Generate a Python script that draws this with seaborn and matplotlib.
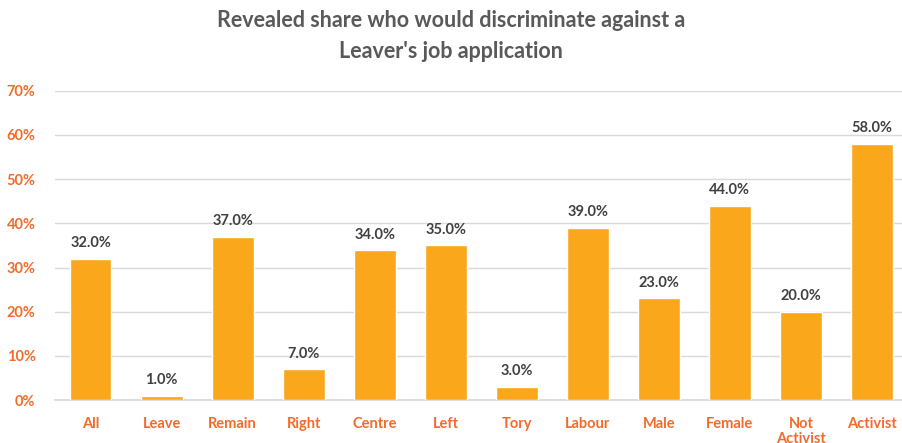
import matplotlib
matplotlib.use("Agg")
import matplotlib.pyplot as plt
import seaborn as sns
import pandas as pd

categories = ["All", "Leave", "Remain", "Right", "Centre", "Left", "Tory", "Labour",
              "Male", "Female", "Not\nActivist", "Activist"]
values = [32.0, 1.0, 37.0, 7.0, 34.0, 35.0, 3.0, 39.0, 23.0, 44.0, 20.0, 58.0]
yticks = [0, 10, 20, 30, 40, 50, 60, 70]
title = "Revealed share who would discriminate against a\nLeaver's job application"

sns.set_theme(style="white")
plt.rcParams['font.family'] = ['Lato', 'DejaVu Sans']

df = pd.DataFrame({"cat": categories, "val": values})

fig = plt.figure(figsize=(9.02, 4.43), dpi=100)
ax = fig.add_axes([0.061, 0.097, 0.945, 0.698])

sns.barplot(data=df, x="cat", y="val", color="#FAA71C", saturation=1, width=0.59, ax=ax, zorder=3)

ax.set_ylim(0, 70)
ax.set_xlim(-0.5, len(categories) - 0.5)
ax.set_yticks(yticks)
ax.set_yticklabels([f"{t}%" for t in yticks])
ax.grid(axis="y", color="#D9D9D9", linewidth=1, zorder=0)
for s in ["top", "right", "left"]:
    ax.spines[s].set_visible(False)
ax.spines["bottom"].set_color("#D9D9D9")
ax.set_xlabel("")
ax.set_ylabel("")
ax.tick_params(axis="both", length=0)
ax.tick_params(axis="y", pad=14)
ax.tick_params(axis="x", pad=12)
for lab in ax.get_xticklabels() + ax.get_yticklabels():
    lab.set_color("#F26B2A")
    lab.set_fontweight("bold")
    lab.set_fontsize(10.5)
for lab in ax.get_xticklabels():
    lab.set_verticalalignment("top")
    lab.set_linespacing(1.1)

for c in ax.containers:
    ax.bar_label(c, labels=[f"{v:.1f}%" for v in values], padding=6,
                 fontsize=10.5, fontweight="bold", color="#404040")

fig.text(0.5, 0.978, title, ha="center", va="top", fontsize=15.5, fontweight="bold",
         color="#595959", linespacing=1.6)

fig.savefig("out.png", dpi=100)
